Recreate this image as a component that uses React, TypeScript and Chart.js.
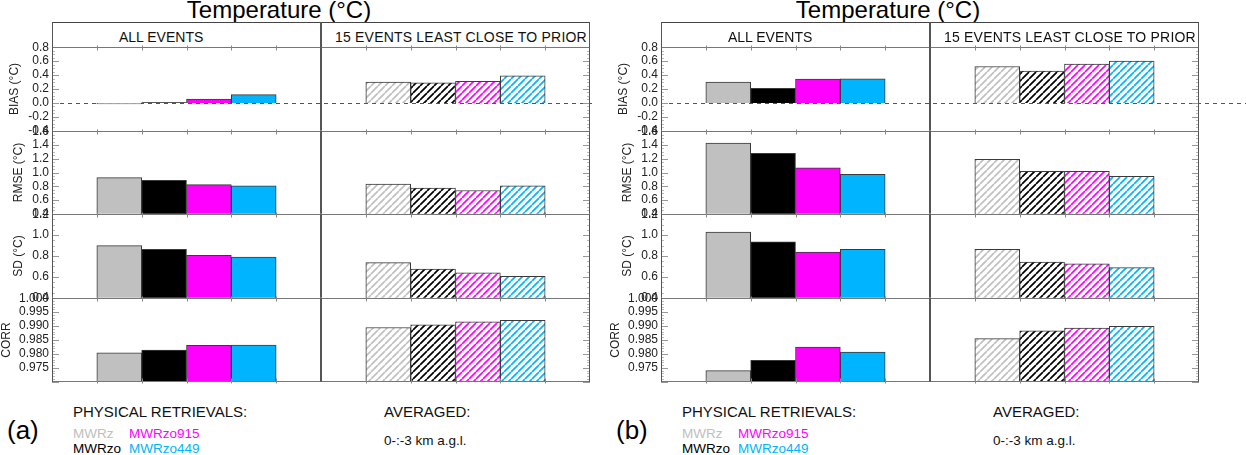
import { useEffect, useRef } from "react";
import { Chart, registerables } from "chart.js";

Chart.register(...registerables);

const FONT = "'Liberation Sans', Arial, Helvetica, sans-serif";

const series = ["MWRz", "MWRzo", "MWRzo915", "MWRzo449"];
const seriesColors = ["#c0c0c0", "#000000", "#ff00ff", "#00b4ff"];
const columns = ["ALL EVENTS", "15 EVENTS LEAST CLOSE TO PRIOR"];
const panelTags = ["(a)", "(b)"];

const metrics = ["BIAS (°C)", "RMSE (°C)", "SD (°C)", "CORR"];
const axisMin = [-0.4, 0.4, 0.4, 0.97];
const axisMax = [0.8, 1.6, 1.2, 1.0];
const majorStep = [0.2, 0.2, 0.2, 0.005];
const minorStep = [0.05, 0.05, 0.05, 0.001];
const tickDigits = [1, 1, 1, 3];

// panel (a)
const biasAllA = [-0.015, 0.005, 0.055, 0.12];
const biasLeastA = [0.3, 0.29, 0.31, 0.39];
const rmseAllA = [0.925, 0.887, 0.824, 0.805];
const rmseLeastA = [0.83, 0.772, 0.738, 0.805];
const sdAllA = [0.9, 0.863, 0.806, 0.79];
const sdLeastA = [0.736, 0.676, 0.638, 0.606];
const corrAllA = [0.9804, 0.9814, 0.9831, 0.9832];
const corrLeastA = [0.9895, 0.9904, 0.9915, 0.9921];

// panel (b)
const biasAllB = [0.3, 0.21, 0.343, 0.347];
const biasLeastB = [0.523, 0.457, 0.557, 0.6];
const rmseAllB = [1.428, 1.28, 1.068, 0.973];
const rmseLeastB = [1.193, 1.017, 1.017, 0.945];
const sdAllB = [1.029, 0.936, 0.838, 0.863];
const sdLeastB = [0.863, 0.743, 0.724, 0.689];
const corrAllB = [0.974, 0.9777, 0.9825, 0.9807];
const corrLeastB = [0.9855, 0.9883, 0.9893, 0.9899];

const panelRows = [
  [
    [biasAllA, biasLeastA],
    [rmseAllA, rmseLeastA],
    [sdAllA, sdLeastA],
    [corrAllA, corrLeastA],
  ],
  [
    [biasAllB, biasLeastB],
    [rmseAllB, rmseLeastB],
    [sdAllB, sdLeastB],
    [corrAllB, corrLeastB],
  ],
];

// layout
const PANEL_X = [0, 609];
const DASH_EXT = [3, 60];
const ROW_TOP = [47, 131, 214, 298];
const ROW_H = [84, 83, 84, 84];
const TITLE_PAD = [7, 11, 11, -1];
const AXIS_W = 52;
const PLOT_W = 538;
const PAD = 10;
const RIGHT_PAD = 60;

function hatch(color: string) {
  const s = 7;
  const c = document.createElement("canvas");
  c.width = s;
  c.height = s;
  const g = c.getContext("2d")!;
  g.fillStyle = "#fff";
  g.fillRect(0, 0, s, s);
  g.strokeStyle = color;
  g.lineWidth = 1.7;
  g.beginPath();
  for (const o of [-s, 0, s]) {
    g.moveTo(o, s);
    g.lineTo(o + s, 0);
  }
  g.stroke();
  return g.createPattern(c, "repeat")!;
}

const framePlugin = {
  id: "frame",
  beforeDatasetsDraw(chart: any, _args: any, opts: any) {
    if (!opts.zeroLine) return;
    const { ctx, chartArea: a, scales } = chart;
    const y0 = Math.round(scales.y.getPixelForValue(0)) + 0.5;
    ctx.save();
    ctx.strokeStyle = "#555";
    ctx.lineWidth = 1;
    ctx.setLineDash([4, 4]);
    ctx.beginPath();
    ctx.moveTo(a.left, y0);
    ctx.lineTo(a.right + opts.dashExt, y0);
    ctx.stroke();
    ctx.restore();
  },
  afterDatasetsDraw(chart: any, _args: any, opts: any) {
    const { ctx, chartArea: a, scales } = chart;
    const { x, y } = scales;
    ctx.save();
    ctx.lineWidth = 1;

    // inward y ticks on the outer frame
    const n = Math.round((opts.max - opts.min) / opts.minor);
    for (let k = 0; k <= n; k++) {
      const v = opts.min + k * opts.minor;
      const r = v / opts.major;
      const major = Math.abs(r - Math.round(r)) < 1e-6;
      const len = major ? 7 : 3;
      const py = Math.round(y.getPixelForValue(v)) + 0.5;
      ctx.strokeStyle = major ? "#999" : "#bbb";
      ctx.beginPath();
      ctx.moveTo(a.left, py);
      ctx.lineTo(a.left + len, py);
      ctx.moveTo(a.right, py);
      ctx.lineTo(a.right - len, py);
      ctx.stroke();
    }

    // row lines
    const ty = Math.round(a.top) + 0.5;
    const by = Math.round(a.bottom) - 0.5;
    ctx.strokeStyle = "#777";
    ctx.beginPath();
    ctx.moveTo(a.left, ty);
    ctx.lineTo(a.right, ty);
    if (opts.last) {
      ctx.moveTo(a.left, by);
      ctx.lineTo(a.right, by);
    }
    ctx.stroke();

    // short marks at bar edges
    ctx.strokeStyle = "#888";
    ctx.beginPath();
    for (let i = 1; i < 12; i++) {
      if (i === 6) continue;
      const px = Math.round((x.getPixelForValue(i - 1) + x.getPixelForValue(i)) / 2) + 0.5;
      ctx.moveTo(px, ty - 2);
      ctx.lineTo(px, ty + 3);
      if (opts.last) {
        ctx.moveTo(px, by - 3);
        ctx.lineTo(px, by + 2);
      }
    }
    ctx.stroke();

    // outer frame verticals
    ctx.strokeStyle = "#555";
    ctx.beginPath();
    ctx.moveTo(a.left + 0.5, a.top);
    ctx.lineTo(a.left + 0.5, a.bottom);
    ctx.moveTo(a.right - 0.5, a.top);
    ctx.lineTo(a.right - 0.5, a.bottom);
    ctx.stroke();

    const cx = (x.getPixelForValue(5) + x.getPixelForValue(6)) / 2;
    ctx.lineWidth = 2;
    ctx.beginPath();
    ctx.moveTo(cx, a.top);
    ctx.lineTo(cx, a.bottom);
    ctx.stroke();
    ctx.restore();
  },
};

function RowChart({ panel, row }: { panel: number; row: number }) {
  const ref = useRef<HTMLCanvasElement>(null);

  useEffect(() => {
    if (!ref.current) return;
    const [all, least] = panelRows[panel][row];
    const values = [null, ...all, null, null, ...least, null];
    const bg = [
      "transparent",
      ...seriesColors,
      "transparent",
      "transparent",
      ...seriesColors.map(hatch),
      "transparent",
    ];
    const digits = tickDigits[row];
    const chart = new Chart(ref.current, {
      type: "bar",
      data: {
        labels: Array(12).fill(""),
        datasets: [
          {
            data: values,
            backgroundColor: bg,
            borderColor: "#3a3a3a",
            borderWidth: 1,
            barPercentage: 1,
            categoryPercentage: 1,
          },
        ],
      },
      options: {
        animation: false,
        responsive: true,
        maintainAspectRatio: false,
        layout: { padding: { left: 0, right: RIGHT_PAD, top: PAD, bottom: PAD } },
        plugins: {
          legend: { display: false },
          tooltip: { enabled: false },
          frame: {
            zeroLine: row === 0,
            last: row === metrics.length - 1,
            dashExt: DASH_EXT[panel],
            min: axisMin[row],
            max: axisMax[row],
            major: majorStep[row],
            minor: minorStep[row],
          },
        } as any,
        scales: {
          x: { display: false, offset: true },
          y: {
            min: axisMin[row],
            max: axisMax[row],
            afterFit: (s: any) => {
              s.width = AXIS_W;
            },
            grid: { display: false, drawTicks: false },
            border: { display: false },
            ticks: {
              stepSize: majorStep[row],
              autoSkip: false,
              padding: 3,
              color: "#222",
              font: { family: FONT, size: 12 },
              callback: (v: any) => {
                const n = Number(v);
                if (row === 3 && Math.abs(n - axisMin[row]) < 1e-9) return "";
                return (Math.abs(n) < 1e-9 ? 0 : n).toFixed(digits);
              },
            },
            title: {
              display: true,
              text: metrics[row],
              color: "#222",
              font: { family: FONT, size: 12, lineHeight: 1.2 },
              padding: { top: TITLE_PAD[row], bottom: 0 },
            },
          },
        },
      },
      plugins: [framePlugin],
    });
    return () => chart.destroy();
  }, [panel, row]);

  return (
    <div
      style={{
        position: "absolute",
        left: PANEL_X[panel],
        top: ROW_TOP[row] - PAD,
        width: AXIS_W + PLOT_W + RIGHT_PAD,
        height: ROW_H[row] + 2 * PAD,
      }}
    >
      <canvas ref={ref} style={{ display: "block" }} />
    </div>
  );
}

function Txt({
  x,
  y,
  size,
  color = "#000",
  center = false,
  spacing = 0,
  children,
}: {
  x: number;
  y: number;
  size: number;
  color?: string;
  center?: boolean;
  spacing?: number;
  children: any;
}) {
  return (
    <div
      style={{
        position: "absolute",
        left: x,
        top: y - 0.8465 * size,
        fontSize: size,
        lineHeight: 1,
        fontFamily: FONT,
        color,
        whiteSpace: "nowrap",
        letterSpacing: spacing,
        transform: center ? "translateX(-50%)" : undefined,
      }}
    >
      {children}
    </div>
  );
}

function Panel({ panel }: { panel: number }) {
  const px = PANEL_X[panel];
  return (
    <>
      <Txt x={px + 279} y={18} size={24} center>
        Temperature (°C)
      </Txt>
      <div
        style={{
          position: "absolute",
          left: px + AXIS_W,
          top: 22,
          width: PLOT_W - 2,
          height: 25,
          borderTop: "1px solid #444",
          borderLeft: "1px solid #555",
          borderRight: "1px solid #555",
        }}
      />
      <div
        style={{
          position: "absolute",
          left: px + AXIS_W + PLOT_W / 2 - 1,
          top: 22,
          width: 2,
          height: 26,
          background: "#555",
        }}
      />
      <Txt x={px + 119} y={42} size={14} color="#111">
        {columns[0]}
      </Txt>
      <Txt x={px + 335} y={42} size={14} color="#111" spacing={0.2}>
        {columns[1]}
      </Txt>
      {metrics.map((_, r) => (
        <RowChart key={r} panel={panel} row={r} />
      ))}
      <Txt x={px + 7} y={439.5} size={26}>
        {panelTags[panel]}
      </Txt>
      <Txt x={px + 73} y={416.7} size={15} color="#111">
        PHYSICAL RETRIEVALS:
      </Txt>
      <Txt x={px + 384} y={416.7} size={15} color="#111">
        AVERAGED:
      </Txt>
      <Txt x={px + 73} y={438.3} size={13.5} color={seriesColors[0]}>
        {series[0]}
      </Txt>
      <Txt x={px + 129} y={438.3} size={13.5} color={seriesColors[2]}>
        {series[2]}
      </Txt>
      <Txt x={px + 73} y={453.3} size={13.5} color={seriesColors[1]}>
        {series[1]}
      </Txt>
      <Txt x={px + 129} y={453.3} size={13.5} color={seriesColors[3]}>
        {series[3]}
      </Txt>
      <Txt x={px + 384} y={445} size={13.5} color="#111">
        0-:-3 km a.g.l.
      </Txt>
    </>
  );
}

export default function App() {
  return (
    <div
      style={{
        position: "absolute",
        left: 0,
        top: 0,
        width: 1246,
        height: 455,
        overflow: "hidden",
        background: "#fff",
      }}
    >
      {panelTags.map((_, i) => (
        <Panel key={i} panel={i} />
      ))}
    </div>
  );
}
